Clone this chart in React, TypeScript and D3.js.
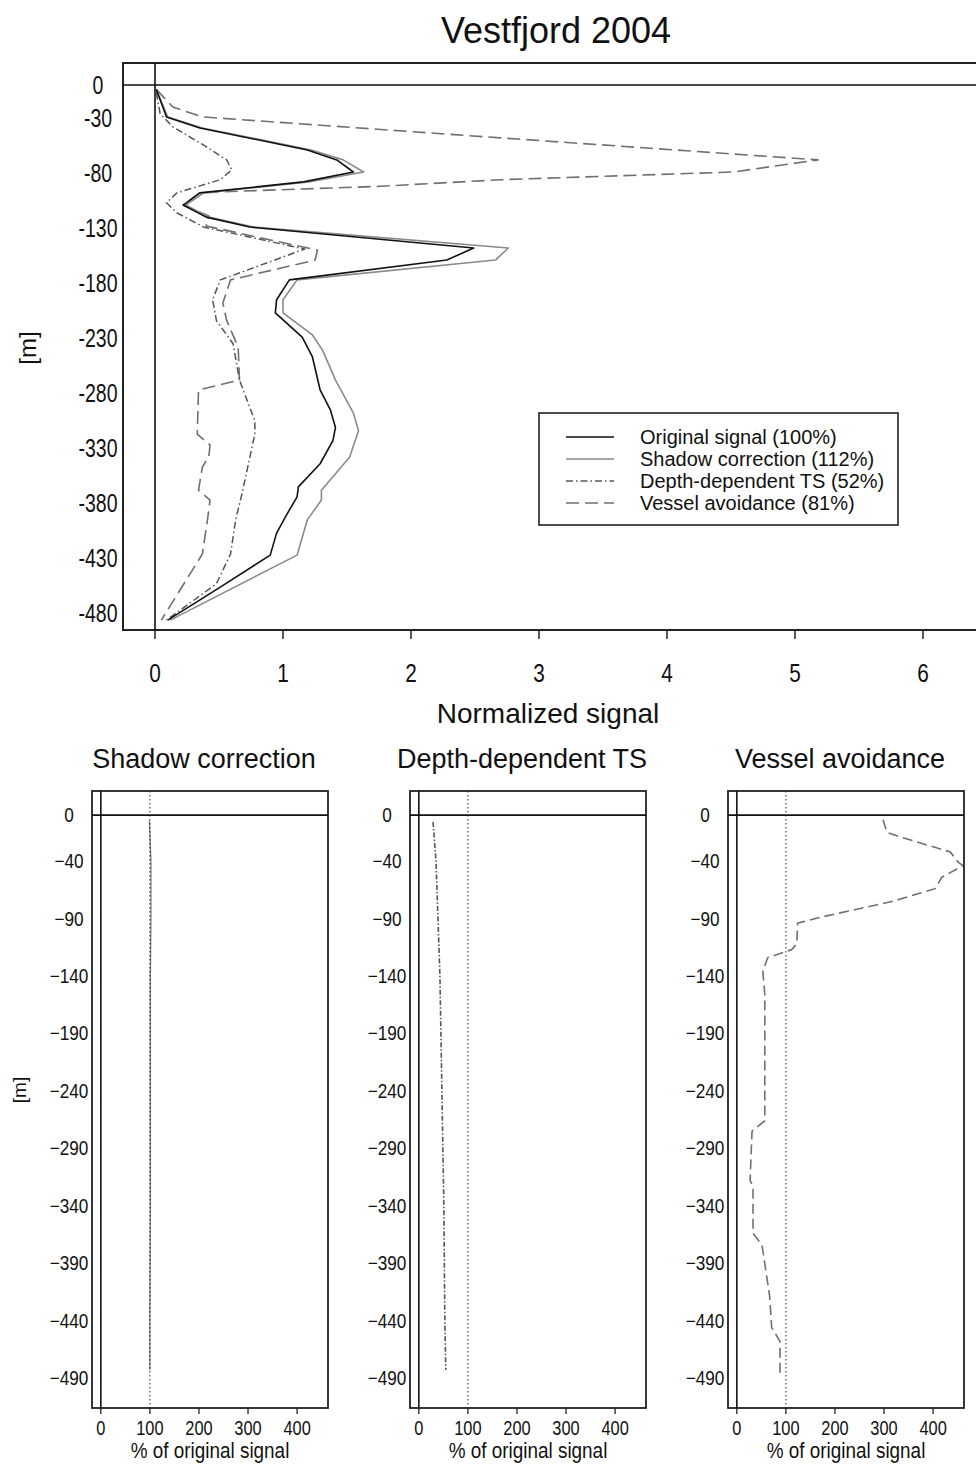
import { scaleLinear, line } from "d3";
import type { ReactNode } from "react";

// depth [m] and normalized signal
const originalSignal: [number, number][] = [
  [-4, 0.01], [-29, 0.09], [-39, 0.35], [-59, 1.19], [-68, 1.42], [-79, 1.55],
  [-88, 1.16], [-98, 0.35], [-109, 0.22], [-120, 0.4], [-129, 0.74], [-148, 2.49],
  [-159, 2.28], [-177, 1.05], [-195, 0.95], [-207, 0.94], [-229, 1.15], [-247, 1.23],
  [-277, 1.29], [-295, 1.37], [-311, 1.41], [-323, 1.39], [-344, 1.29], [-365, 1.12],
  [-374, 1.11], [-392, 1.02], [-407, 0.95], [-427, 0.9], [-456, 0.51], [-486, 0.1],
];
const shadowCorrection: [number, number][] = [
  [-4, 0.01], [-29, 0.1], [-39, 0.37], [-59, 1.22], [-68, 1.47], [-79, 1.63],
  [-88, 1.2], [-98, 0.38], [-109, 0.24], [-120, 0.42], [-129, 0.77], [-148, 2.76],
  [-159, 2.66], [-177, 1.11], [-195, 1.0], [-207, 1.0], [-227, 1.23], [-241, 1.31],
  [-268, 1.41], [-298, 1.55], [-314, 1.59], [-338, 1.52], [-368, 1.3], [-377, 1.3],
  [-395, 1.19], [-411, 1.15], [-427, 1.11], [-486, 0.12],
];
const depthDependentTS: [number, number][] = [
  [-7, 0.01], [-26, 0.04], [-38, 0.14], [-56, 0.4], [-68, 0.56], [-77, 0.6],
  [-86, 0.51], [-98, 0.17], [-107, 0.09], [-116, 0.17], [-129, 0.38], [-149, 1.17],
  [-177, 0.51], [-195, 0.45], [-214, 0.48], [-235, 0.61], [-268, 0.66], [-305, 0.78],
  [-317, 0.78], [-371, 0.68], [-395, 0.63], [-426, 0.59], [-453, 0.48], [-486, 0.09],
];
const vesselAvoidance: [number, number][] = [
  [-4, 0.01], [-20, 0.14], [-29, 0.37], [-48, 2.7], [-68, 5.18], [-79, 4.52],
  [-86, 2.7], [-92, 1.76], [-97, 0.51], [-98, 0.35], [-109, 0.22], [-119, 0.42],
  [-128, 0.4], [-150, 1.27], [-159, 1.25], [-177, 0.59], [-198, 0.53], [-214, 0.56],
  [-238, 0.65], [-268, 0.66], [-277, 0.34], [-317, 0.33], [-327, 0.43], [-338, 0.42],
  [-347, 0.37], [-368, 0.34], [-377, 0.43], [-395, 0.41], [-426, 0.37], [-486, 0.05],
];

// % of original signal, bottom panels
const shadowPct: [number, number][] = [
  [-5, 99], [-40, 102], [-90, 102], [-140, 101], [-240, 101], [-340, 101], [-440, 100], [-483, 100],
];
const depthTSPct: [number, number][] = [
  [-6, 29], [-40, 35], [-140, 43], [-240, 47], [-340, 51], [-440, 53], [-483, 55],
];
const vesselPct: [number, number][] = [
  [-4, 298], [-15, 306], [-19, 333], [-32, 435], [-41, 451], [-44, 461], [-54, 418],
  [-64, 404], [-75, 318], [-89, 169], [-94, 124], [-112, 122], [-117, 112], [-124, 63],
  [-136, 53], [-156, 57], [-232, 57], [-266, 57], [-275, 31], [-318, 27], [-323, 33],
  [-364, 33], [-374, 51], [-379, 53], [-419, 67], [-446, 71], [-458, 88], [-489, 88],
];

const topXTicks = [0, 1, 2, 3, 4, 5, 6];
const topYTicks = [0, -30, -80, -130, -180, -230, -280, -330, -380, -430, -480];
const botXTicks = [0, 100, 200, 300, 400];
const botYTicks = [0, -40, -90, -140, -190, -240, -290, -340, -390, -440, -490];

const legendLabels = [
  "Original signal (100%)",
  "Shadow correction (112%)",
  "Depth-dependent TS (52%)",
  "Vessel avoidance (81%)",
];

const styles = [
  { stroke: "#111", width: 1.6, dash: undefined },
  { stroke: "#8a8a8a", width: 1.6, dash: undefined },
  { stroke: "#555", width: 1.5, dash: "7,3,1.5,3" },
  { stroke: "#707070", width: 1.6, dash: "13,6" },
];

const FONT = "'Liberation Sans', Arial, sans-serif";

// text squeezed horizontally, the plot uses a narrow face
function T({
  x,
  y,
  size,
  sx = 1,
  anchor = "middle",
  rotate = 0,
  children,
}: {
  x: number;
  y: number;
  size: number;
  sx?: number;
  anchor?: "start" | "middle" | "end";
  rotate?: number;
  children: ReactNode;
}) {
  return (
    <text
      transform={`translate(${x},${y}) rotate(${rotate}) scale(${sx},1)`}
      textAnchor={anchor}
      fontSize={size}
      fontFamily={FONT}
      fill="#111"
    >
      {children}
    </text>
  );
}

function TopChart() {
  const x = scaleLinear([-0.25, 6.45], [123, 980.6]);
  const y = scaleLinear([20, -495], [63, 630]);
  const path = line<[number, number]>()
    .x((d) => x(d[1]))
    .y((d) => y(d[0]));
  const series = [originalSignal, shadowCorrection, depthDependentTS, vesselAvoidance];
  const order = [3, 2, 1, 0];
  return (
    <g>
      <T x={556} y={43} size={36}>
        Vestfjord 2004
      </T>
      {order.map((i) => (
        <path
          key={i}
          d={path(series[i]) ?? ""}
          fill="none"
          stroke={styles[i].stroke}
          strokeWidth={styles[i].width}
          strokeDasharray={styles[i].dash}
          strokeLinejoin="round"
        />
      ))}
      <rect x={x(-0.25)} y={y(20)} width={1000} height={y(-495) - y(20)} fill="none" stroke="#222" strokeWidth={2} />
      <line x1={x(-0.25)} x2={976} y1={y(0)} y2={y(0)} stroke="#111" strokeWidth={1.6} />
      <line x1={x(0)} x2={x(0)} y1={y(20)} y2={y(-495)} stroke="#111" strokeWidth={1.6} />
      {topXTicks.map((t) => (
        <g key={t}>
          <line x1={x(t)} x2={x(t)} y1={y(-495)} y2={y(-495) + 9} stroke="#222" strokeWidth={1.5} />
          <T x={x(t)} y={682} size={26} sx={0.8}>
            {t}
          </T>
        </g>
      ))}
      {topYTicks.map((t) => (
        <T key={t} x={98} y={y(t) + 9} size={25} sx={0.78}>
          {t}
        </T>
      ))}
      <T x={548} y={723} size={28}>
        Normalized signal
      </T>
      <T x={36} y={348} size={24} rotate={-90}>
        [m]
      </T>
      <rect x={539} y={413} width={359} height={112} fill="#fff" stroke="#222" strokeWidth={1.6} />
      {legendLabels.map((lab, i) => (
        <g key={lab}>
          <line
            x1={566}
            x2={614}
            y1={437 + i * 22}
            y2={437 + i * 22}
            stroke={styles[i].stroke}
            strokeWidth={styles[i].width}
            strokeDasharray={styles[i].dash}
          />
          <T x={640} y={444 + i * 22} size={20} anchor="start">
            {lab}
          </T>
        </g>
      ))}
    </g>
  );
}

function Panel({
  left,
  title,
  data,
  styleIdx,
  showYLabel,
}: {
  left: number;
  title: string;
  data: [number, number][];
  styleIdx: number;
  showYLabel: boolean;
}) {
  const x = scaleLinear([-18, 463], [left, left + 236]);
  const y = scaleLinear([21, -516], [791, 1408]);
  const path = line<[number, number]>()
    .x((d) => x(d[1]))
    .y((d) => y(d[0]));
  const st = styles[styleIdx];
  const cx = left + 118;
  return (
    <g>
      <T x={cx - 6} y={768} size={27}>
        {title}
      </T>
      <path
        d={path(data) ?? ""}
        fill="none"
        stroke={styleIdx === 1 ? "#777" : st.stroke}
        strokeWidth={styleIdx === 1 ? 1.3 : 1.6}
        strokeDasharray={styleIdx === 3 ? "10,5" : styleIdx === 2 ? "5,2,1.5,2" : undefined}
      />
      <line x1={x(100)} x2={x(100)} y1={y(21)} y2={y(-516)} stroke="#222" strokeWidth={1} strokeDasharray="1.5,2.5" />
      <rect x={left} y={791} width={236} height={617} fill="none" stroke="#222" strokeWidth={1.8} />
      <line x1={left} x2={left + 236} y1={y(0)} y2={y(0)} stroke="#111" strokeWidth={1.8} />
      <line x1={x(0)} x2={x(0)} y1={791} y2={1408} stroke="#111" strokeWidth={1.6} />
      {botXTicks.map((t) => (
        <g key={t}>
          <line x1={x(t)} x2={x(t)} y1={1408} y2={1414} stroke="#222" strokeWidth={1.3} />
          <T x={x(t)} y={1435} size={20} sx={0.82}>
            {t}
          </T>
        </g>
      ))}
      {botYTicks.map((t) => (
        <T key={t} x={left - 23} y={y(t) + 7} size={20} sx={0.86}>
          {t === 0 ? "0" : "\u2212" + Math.abs(t)}
        </T>
      ))}
      <T x={cx} y={1458} size={22} sx={0.86}>
        % of original signal
      </T>
      {showYLabel && (
        <T x={26} y={1090} size={19} rotate={-90}>
          [m]
        </T>
      )}
    </g>
  );
}

export default function App() {
  return (
    <svg
      width={976}
      height={1464}
      style={{ position: "absolute", left: 0, top: 0, background: "#fff" }}
    >
      <rect width={976} height={1464} fill="#fff" />
      <TopChart />
      <Panel left={92} title="Shadow correction" data={shadowPct} styleIdx={1} showYLabel />
      <Panel left={410} title="Depth-dependent TS" data={depthTSPct} styleIdx={2} showYLabel={false} />
      <Panel left={728} title="Vessel avoidance" data={vesselPct} styleIdx={3} showYLabel={false} />
    </svg>
  );
}
